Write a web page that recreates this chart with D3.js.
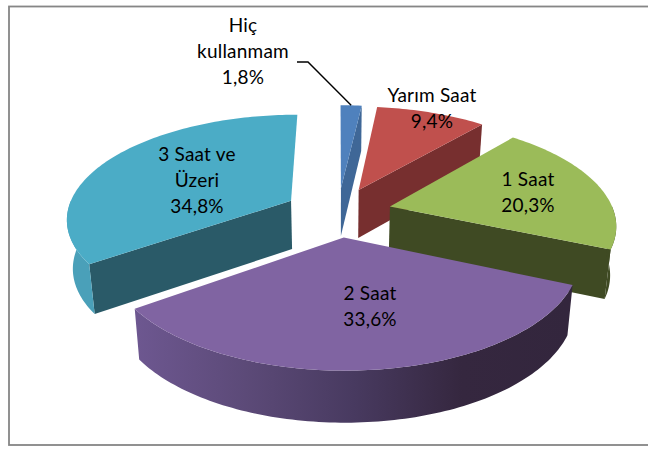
<!DOCTYPE html>
<html><head><meta charset="utf-8">
<style>html,body{margin:0;padding:0;background:#fff}svg{display:block}text{font-family:Lato,"Open Sans",sans-serif;font-size:19px;letter-spacing:0.2px;fill:#000;text-anchor:middle}</style>
<script src="https://cdnjs.cloudflare.com/ajax/libs/d3/7.8.5/d3.min.js"></script>
</head><body><svg id="c" width="648" height="449"></svg>
<script>
const categories = ["Hiç kullanmam","Yarım Saat","1 Saat","2 Saat","3 Saat ve Üzeri"];
const values = [1.8,9.4,20.3,33.6,34.8];
const valueLabels = ["1,8%","9,4%","20,3%","33,6%","34,8%"];
const labelLines = [["Hiç","kullanmam"],["Yarım Saat"],["1 Saat"],["2 Saat"],["3 Saat ve","Üzeri"]];
const topColors = ["#4f81bd","#c0504d","#9bbb59","#8064a2","#4bacc6"];
const edgeColors = ["#3f6797","#772f2f","#3f4a23","#4f3f65","#2a5a68"];
const rimColors = ["#3f6797","#772f2f","#3f4a23","url(#purpleWall)","#4aa0b9"];

// layout
const W=648,H=449, cx=338, cy=212, A=224, B=103, persp=0.158, explode=0.24, depth=48.5, depthPersp=0.055, taper=0.978;
const labelPos=[[243,32],[432,102],[528,186],[370,300],[197,161]];
const lineH=26;

const svg=d3.select("#c");
const defs=svg.append("defs");
const g=defs.append("linearGradient").attr("id","purpleWall").attr("gradientUnits","userSpaceOnUse")
  .attr("x1",137).attr("x2",570).attr("y1",0).attr("y2",0);
[[0,"#6d5790"],[0.25,"#5c4a78"],[0.5,"#483a60"],[0.75,"#35273f"],[1,"#33263d"]].forEach(s=>g.append("stop").attr("offset",s[0]).attr("stop-color",s[1]));

svg.append("rect").attr("x",9).attr("y",6.5).attr("width",W+20).attr("height",438.5).attr("fill","#fff").attr("stroke","#868686").attr("stroke-width",1.8);

const project=(X,Z,h)=>{const w=1+persp*Z,t=h?taper:1;return [cx+A*X/w*t,cy-B*Z/w+depth*h/(1+depthPersp*Z)];};
const pie=d3.pie().sort(null).value(d=>d);
const arcs=pie(values);
const line=d3.line();
const slices=arcs.map((a,i)=>{
  const m=(a.startAngle+a.endAngle)/2, ox=explode*Math.sin(m), oz=explode*Math.cos(m);
  const P=(ang,r,h)=>project(ox+r*Math.sin(ang),oz+r*Math.cos(ang),h);
  return {a,i,P};
});
const rim=(s,a0,a1,h)=>{const n=Math.max(2,Math.ceil(Math.abs(a1-a0)/0.02));return d3.range(n+1).map(k=>s.P(a0+(a1-a0)*k/n,1,h));};
const front=(s)=>{
  const a0=Math.max(s.a.startAngle,Math.PI/2), a1=Math.min(s.a.endAngle,1.5*Math.PI);
  return a1>a0?[a0,a1]:null;
};
const order=[4,0,1,2,3];
order.forEach(i=>{
  const s=slices[i],a=s.a,G=svg.append("g");
  const wall=(ang)=>G.append("path").attr("d",line([s.P(ang,0,0),s.P(ang,1,0),s.P(ang,1,1),s.P(ang,0,1)])+"Z").attr("fill",edgeColors[i]);
  if(a.endAngle<Math.PI) wall(a.endAngle);
  if(a.startAngle>Math.PI) wall(a.startAngle);
  const f=front(s);
  if(f) G.append("path").attr("d",line(rim(s,f[0],f[1],0).concat(rim(s,f[1],f[0],1)))+"Z").attr("fill",rimColors[i]);
  G.append("path").attr("d",line([s.P(a.startAngle,0,0)].concat(rim(s,a.startAngle,a.endAngle,0)))+"Z").attr("fill",topColors[i]);
});

const b=slices[0];
const leaderEnd=b.P((b.a.startAngle+b.a.endAngle)/2,1,0);
svg.append("path").attr("d",line([[297,62],[308,62],leaderEnd])).attr("fill","none").attr("stroke","#000").attr("stroke-width",1.4);

categories.forEach((c,i)=>{
  const lines=labelLines[i].concat([valueLabels[i]]);
  const t=svg.append("text").attr("aria-label",c);
  lines.forEach((l,k)=>t.append("tspan").attr("x",labelPos[i][0]).attr("y",labelPos[i][1]+k*lineH).text(l));
});
</script></body></html>
